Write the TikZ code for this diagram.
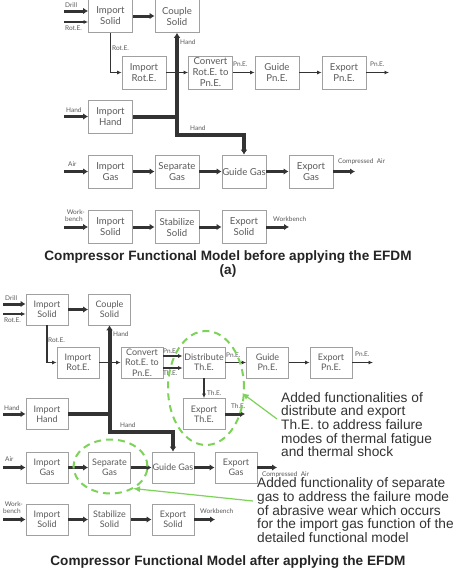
\documentclass[tikz,border=0pt]{standalone}
\usepackage{fontspec}
\setmainfont{Liberation Sans}
\newfontfamily\boxfont{Lato}
\usetikzlibrary{arrows.meta,calc,shapes.geometric}
\definecolor{boxline}{HTML}{A0A0A0}
\definecolor{boxtext}{HTML}{5A5A5A}
\definecolor{arr}{HTML}{333333}
\definecolor{grn}{HTML}{7DD35A}
\definecolor{notec}{HTML}{333333}
\tikzset{
  fbox/.style={draw=boxline, line width=0.8pt, text=boxtext, align=center, inner sep=0pt,
    font=\boxfont\fontsize{9.6}{11}\selectfont, minimum width=44pt, minimum height=33pt},
  fboxb/.style={fbox, minimum width=42pt, minimum height=31pt, font=\boxfont\fontsize{9}{10.3}\selectfont},
  tarr/.style={draw=arr, line width=1.1pt, -{Latex[length=4.5pt,width=4pt]}},
  karr/.style={draw=arr, line width=3pt, -{Latex[length=5pt,width=6.5pt]}},
  hline/.style={draw=arr, line width=4pt},
  harr/.style={draw=arr, line width=4pt, line join=miter, {Latex[length=5pt,width=7pt]}-{Latex[length=5pt,width=7pt]}},
  lab/.style={text=boxtext, font=\boxfont\fontsize{6.5}{7.5}\selectfont, inner sep=0pt, align=left},
  gdash/.style={draw=grn, line width=2pt, dash pattern=on 7pt off 5pt},
  garr/.style={draw=grn, line width=1.2pt, -{Latex[length=7pt,width=6pt]}},
  note/.style={text=notec, font=\fontsize{13.7}{13.7}\selectfont, inner sep=0pt, align=left},
  ttl/.style={text=notec!70!black, font=\bfseries\fontsize{13.6}{14}\selectfont, inner sep=0pt}
}
\begin{document}
\begin{tikzpicture}[x=1pt,y=-1pt]
\useasboundingbox[fill=white] (0,0) rectangle (474,571);
% ---------------- (a) ----------------
\node[fbox] (IS1) at (110.5,16) {Import\\Solid};
\node[fbox] (CS1) at (177,16) {Couple\\Solid};
\node[fbox] (IR1) at (144,72.5) {Import\\Rot.E.};
\node[fbox] (CV1) at (210.5,72.5) {Convert\\Rot.E. to\\Pn.E.};
\node[fbox] (GP1) at (277,72.5) {Guide\\Pn.E.};
\node[fbox] (EP1) at (344,72.5) {Export\\Pn.E.};
\node[fbox] (IH1) at (110.5,116.5) {Import\\Hand};
\node[fbox] (IG1) at (110.5,171.5) {Import\\Gas};
\node[fbox] (SG1) at (177,171.5) {Separate\\Gas};
\node[fbox] (GG1) at (244,171.5) {Guide Gas};
\node[fbox] (EG1) at (311,171.5) {Export\\Gas};
\node[fbox] (IW1) at (110.5,227) {Import\\Solid};
\node[fbox] (SS1) at (177,227) {Stabilize\\Solid};
\node[fbox] (ES1) at (244,227) {Export\\Solid};

\coordinate (dr1) at (64,11);
\coordinate (ri1) at (64,22);
\coordinate (po1) at (389,72.5);
\coordinate (hi1) at (64,116.5);
\coordinate (hj1) at (177,116.5);
\coordinate (hb1) at (177,135);
\coordinate (ai1) at (64,171.5);
\coordinate (ca1) at (355,171.5);
\coordinate (wi1) at (64,227);
\coordinate (wo1) at (289,227);

\draw[karr] (dr1) -- (dr1 -| IS1.west);
\draw[tarr] (ri1) -- (ri1 -| IS1.west);
\draw[karr] (IS1) -- (CS1);
\draw[tarr] (IS1.south) |- (IR1.west);
\draw[tarr] (IR1) -- (CV1);
\draw[tarr] (CV1) -- (GP1);
\draw[tarr] (GP1) -- (EP1);
\draw[tarr] (EP1) -- (po1);
\draw[karr] (hi1) -- (IH1);
\draw[hline] (IH1.east) -- (hj1);
\draw[harr] (CS1.south) -- (hb1) -| (GG1.north);
\draw[karr] (ai1) -- (IG1);
\draw[karr] (IG1) -- (SG1);
\draw[karr] (SG1) -- (GG1);
\draw[karr] (GG1) -- (EG1);
\draw[karr] (EG1) -- (ca1);
\draw[karr] (wi1) -- (IW1);
\draw[karr] (IW1) -- (SS1);
\draw[karr] (SS1) -- (ES1);
\draw[karr] (ES1) -- (wo1);

\node[lab, anchor=west] (l1) at (65,5.5) {Drill};
\node[lab, anchor=west] (l2) at (65,28.5) {Rot.E.};
\node[lab, anchor=west] (l3) at (112,48) {Rot.E.};
\node[lab, anchor=west] (l4) at (180,42.5) {Hand};
\node[lab, anchor=west] (l5) at (233,64.5) {Pn.E.};
\node[lab, anchor=west] (l6) at (370,64.5) {Pn.E.};
\node[lab, anchor=west] (l7) at (66,110) {Hand};
\node[lab, anchor=west] (l8) at (190,128) {Hand};
\node[lab, anchor=west] (l9) at (68,164) {Air};
\node[lab, anchor=west] (l10) at (338,162) {Compressed\ \ Air};
\node[lab, anchor=west] (l11) at (65,215.5) {\ Work-\\bench};
\node[lab, anchor=west] (l12) at (273,219) {Workbench};

\node[ttl] (t1) at (228,257) {Compressor Functional Model before applying the EFDM};
\node[ttl] (t1a) at (228,270.5) {(a)};

% ---------------- (b) ----------------
\node[fboxb] (IS2) at (47,309.5) {Import\\Solid};
\node[fboxb] (CS2) at (109.5,309.5) {Couple\\Solid};
\node[fboxb] (IR2) at (78,362.5) {Import\\Rot.E.};
\node[fboxb] (CV2) at (142,362.5) {Convert\\Rot.E. to\\Pn.E.};
\node[fboxb] (DT2) at (204,362.5) {Distribute\\Th.E.};
\node[fboxb] (GP2) at (267.5,362.5) {Guide\\Pn.E.};
\node[fboxb] (EP2) at (331,362.5) {Export\\Pn.E.};
\node[fboxb] (ET2) at (204,414) {Export\\Th.E.};
\node[fboxb] (IH2) at (47,414) {Import\\Hand};
\node[fboxb] (IG2) at (47,467.5) {Import\\Gas};
\node[fboxb] (SG2) at (109.5,467.5) {Separate\\Gas};
\node[fboxb] (GG2) at (173,467.5) {Guide Gas};
\node[fboxb] (EG2) at (236,467.5) {Export\\Gas};
\node[fboxb] (IW2) at (47,519.5) {Import\\Solid};
\node[fboxb] (SS2) at (109.5,519.5) {Stabilize\\Solid};
\node[fboxb] (ES2) at (173,519.5) {Export\\Solid};

\coordinate (dr2) at (3,304);
\coordinate (ri2) at (3,314);
\coordinate (po2) at (373,362.5);
\coordinate (to2) at (245,414);
\coordinate (hi2) at (3,414);
\coordinate (hj2) at (109.5,414);
\coordinate (hb2) at (109.5,432);
\coordinate (ai2) at (3,467.5);
\coordinate (ca2) at (277,467.5);
\coordinate (wi2) at (3,519.5);
\coordinate (wo2) at (215,519.5);

\draw[karr] (dr2) -- (dr2 -| IS2.west);
\draw[tarr] (ri2) -- (ri2 -| IS2.west);
\draw[karr] (IS2) -- (CS2);
\draw[tarr] (IS2.south) |- (IR2.west);
\draw[tarr] (IR2) -- (CV2);
\draw[tarr] ($(CV2.east)+(0,-6.5)$) -- ($(DT2.west)+(0,-6.5)$);
\draw[tarr] ($(CV2.east)+(0,5.5)$) -- ($(DT2.west)+(0,5.5)$);
\draw[tarr] (DT2) -- (GP2);
\draw[tarr] (GP2) -- (EP2);
\draw[tarr] (EP2) -- (po2);
\draw[tarr] (DT2) -- (ET2);
\draw[karr] (ET2) -- (to2);
\draw[karr] (hi2) -- (IH2);
\draw[hline] (IH2.east) -- (hj2);
\draw[harr] (CS2.south) -- (hb2) -| (GG2.north);
\draw[karr] (ai2) -- (IG2);
\draw[karr] (IG2) -- (SG2);
\draw[karr] (SG2) -- (GG2);
\draw[karr] (GG2) -- (EG2);
\draw[karr] (EG2) -- (ca2);
\draw[karr] (wi2) -- (IW2);
\draw[karr] (IW2) -- (SS2);
\draw[karr] (SS2) -- (ES2);
\draw[karr] (ES2) -- (wo2);

\node[lab, anchor=west] (m1) at (5,298) {Drill};
\node[lab, anchor=west] (m2) at (4,320.5) {Rot.E.};
\node[lab, anchor=west] (m3) at (48,340) {Rot.E.};
\node[lab, anchor=west] (m4) at (113,334) {Hand};
\node[lab, anchor=west] (m5) at (163,351) {Pn.E.};
\node[lab, anchor=west] (m6) at (163,373.5) {Th.E.};
\node[lab, anchor=west] (m7) at (226,355) {Pn.E.};
\node[lab, anchor=west] (m8) at (355,354) {Pn.E.};
\node[lab, anchor=west] (m9) at (207,393) {Th.E.};
\node[lab, anchor=west] (m10) at (231,406) {Th.E.};
\node[lab, anchor=west] (m11) at (4,408) {Hand};
\node[lab, anchor=west] (m12) at (120,425) {Hand};
\node[lab, anchor=west] (m13) at (5,459) {Air};
\node[lab, anchor=west] (m14) at (262,474.5) {Compressed\ \ Air};
\node[lab, anchor=west] (m15) at (3,507.5) {\ Work-\\bench};
\node[lab, anchor=west] (m16) at (200,511) {Workbench};

% green highlights
\node[gdash, ellipse, minimum width=76pt, minimum height=114pt, inner sep=0pt] (E1) at (206,388) {};
\node[gdash, ellipse, minimum width=74pt, minimum height=54pt, inner sep=0pt] (E2) at (110.5,466.5) {};
\coordinate (g1) at (277,419);
\coordinate (g1t) at (242,393);
\coordinate (g2) at (253,501);
\coordinate (g2t) at (133,488.5);
\draw[garr] (g1) -- (g1t);
\draw[garr] (g2) -- (g2t);

\node[note, anchor=north west] (n1) at (281,392) {Added functionalities of\\distribute and export\\Th.E. to address failure\\modes of thermal fatigue\\and thermal shock};
\node[note, anchor=north west] (n2) at (257,477.5) {Added functionality of separate\\gas to address the failure mode\\of abrasive wear which occurs\\for the import gas function of the\\detailed functional model};

\node[ttl] (t2) at (228,562) {Compressor Functional Model after applying the EFDM};
\end{tikzpicture}
\end{document}
